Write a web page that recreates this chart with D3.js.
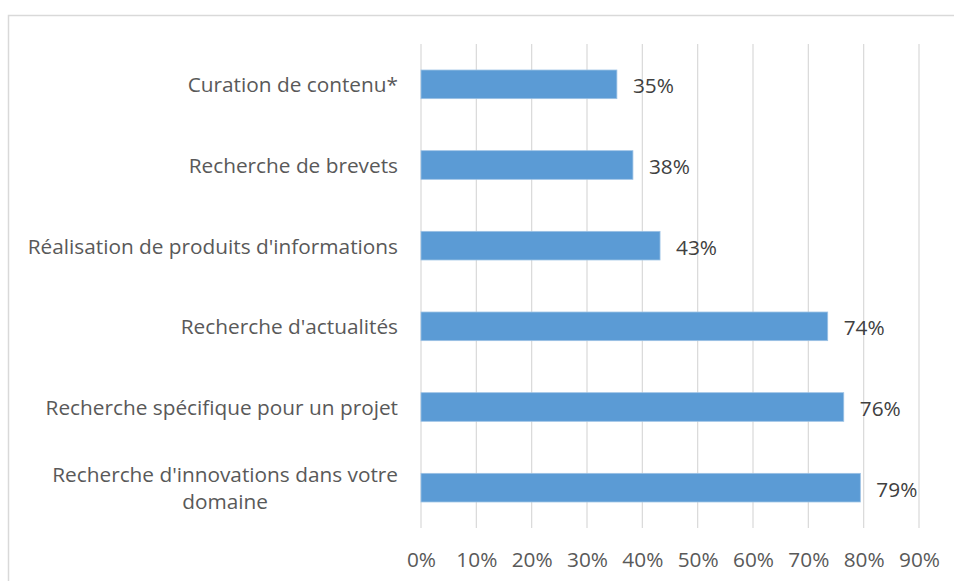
<!DOCTYPE html>
<html>
<head>
<meta charset="utf-8">
<script src="https://cdn.jsdelivr.net/npm/d3@7"></script>
<style>
  body { margin: 0; background: #fff; }
  text { font-family: "Open Sans", sans-serif; }
</style>
</head>
<body>
<div id="chart-area"></div>
<script>
// categories (top to bottom) and their shares
const categories = [
	"Curation de contenu*",
	"Recherche de brevets",
	"Réalisation de produits d'informations",
	"Recherche d'actualités",
	"Recherche spécifique pour un projet",
	"Recherche d'innovations dans votre domaine"
]
const values = [0.354, 0.383, 0.432, 0.735, 0.764, 0.794]
const tickValues = [0, 0.1, 0.2, 0.3, 0.4, 0.5, 0.6, 0.7, 0.8, 0.9]

const data = categories.map((c, i) => ({ name: c, value: values[i] }))

const width = 954, height = 581
const plot = { left: 421, right: 919, top: 44, bottom: 528 }
const fontSize = 20.8

const svg = d3.select("#chart-area").append("svg")
	.attr("width", width)
	.attr("height", height)

// chart area frame
svg.append("rect")
	.attr("x", 8.5).attr("y", 15.5)
	.attr("width", 980).attr("height", 600)
	.attr("fill", "none")
	.attr("stroke", "#D9D9D9")
	.attr("stroke-width", 1.5)

const x = d3.scaleLinear().domain([0, 0.9]).range([plot.left, plot.right])
const y = d3.scaleBand().domain(categories).range([plot.top, plot.bottom])
	.paddingInner(0.645).paddingOuter(0.3225)

// vertical gridlines
svg.append("g").selectAll("line")
	.data(tickValues)
	.enter().append("line")
	.attr("x1", d => x(d)).attr("x2", d => x(d))
	.attr("y1", plot.top).attr("y2", plot.bottom)
	.attr("stroke", "#D9D9D9")
	.attr("stroke-width", 1.2)

// x axis labels
const xAxis = svg.append("g")
	.attr("transform", `translate(0,${plot.bottom})`)
	.call(d3.axisBottom(x).tickValues(tickValues).tickFormat(d3.format(".0%")).tickSize(0).tickPadding(24))
xAxis.select(".domain").remove()
xAxis.selectAll("text")
	.attr("fill", "#595959")
	.style("font-size", fontSize + "px")
	.style("font-family", "'Open Sans', sans-serif")

// bars
svg.append("g").selectAll("rect")
	.data(data)
	.enter().append("rect")
	.attr("x", x(0))
	.attr("y", d => y(d.name))
	.attr("width", d => x(d.value) - x(0))
	.attr("height", y.bandwidth())
	.attr("fill", "#5B9BD5")
	.attr("stroke", "#9CC2E5")
	.attr("stroke-width", 0.8)

// value labels
svg.append("g").selectAll("text")
	.data(data)
	.enter().append("text")
	.attr("x", d => x(d.value) + 16)
	.attr("y", d => y(d.name) + y.bandwidth() / 2 + 1)
	.attr("dominant-baseline", "central")
	.attr("fill", "#404040")
	.style("font-size", fontSize + "px")
	.text(d => d3.format(".0%")(d.value))

// category labels, wrapped when too long, lines centered in a right-aligned box
const labelRight = 398, maxLabelWidth = 380, lineHeight = 27
const catG = svg.append("g")
data.forEach(d => {
	const cy = y(d.name) + y.bandwidth() / 2
	const probe = catG.append("text").style("font-size", fontSize + "px")
	const words = d.name.split(" ")
	const lines = []
	let line = []
	words.forEach(w => {
		line.push(w)
		probe.text(line.join(" "))
		if (probe.node().getComputedTextLength() > maxLabelWidth && line.length > 1) {
			line.pop()
			lines.push(line.join(" "))
			line = [w]
		}
	})
	lines.push(line.join(" "))
	const widths = lines.map(l => { probe.text(l); return probe.node().getComputedTextLength() })
	probe.remove()
	const boxW = d3.max(widths)
	const cx = labelRight - boxW / 2
	lines.forEach((l, i) => {
		catG.append("text")
			.attr("x", cx)
			.attr("y", cy + (i - (lines.length - 1) / 2) * lineHeight)
			.attr("text-anchor", "middle")
			.attr("dominant-baseline", "central")
			.attr("fill", "#595959")
			.style("font-size", fontSize + "px")
			.text(l)
	})
})
</script>
</body>
</html>
